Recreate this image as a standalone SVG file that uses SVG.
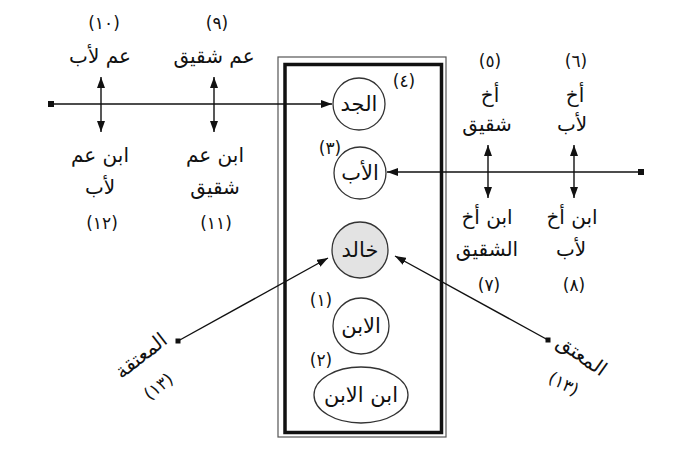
<svg xmlns="http://www.w3.org/2000/svg" width="700" height="457" viewBox="0 0 700 457">
<defs>
<marker id="ah" viewBox="0 0 11 8" refX="11" refY="4" markerWidth="11" markerHeight="8" markerUnits="userSpaceOnUse" orient="auto-start-reverse">
<path d="M0,0 L11,4 L0,8 z" fill="#111"/>
</marker>
<style>
.t{font-family:"DejaVu Sans",sans-serif;font-size:20px;fill:#111;text-anchor:middle}
.c1{font-family:"DejaVu Sans",sans-serif;font-size:21px;fill:#111;text-anchor:middle}
.n{font-family:"DejaVu Sans",sans-serif;font-size:17px;fill:#111;text-anchor:middle;letter-spacing:3px}
.c{fill:#fff;stroke:#333;stroke-width:1.3}
.arr{stroke:#111;stroke-width:1.4;fill:none;marker-end:url(#ah)}
.dbl{stroke:#111;stroke-width:1.4;fill:none;marker-start:url(#ah);marker-end:url(#ah)}
</style>
</defs>
<rect width="700" height="457" fill="#fff"/>
<g id="frame">
<rect x="278" y="57" width="168" height="380" fill="none" stroke="#555" stroke-width="1.2"/>
<rect x="285" y="64.5" width="156.5" height="368" fill="none" stroke="#111" stroke-width="3.5"/>
</g>
<g id="connectors">
<line class="arr" x1="51" y1="104" x2="332" y2="104"/>
<rect x="48" y="101" width="6" height="6" fill="#111"/>
<line class="arr" x1="641" y1="172" x2="387" y2="172"/>
<rect x="638" y="169" width="6" height="6" fill="#111"/>
<line class="dbl" x1="101" y1="77" x2="101" y2="132"/>
<line class="dbl" x1="214" y1="77" x2="214" y2="132"/>
<line class="dbl" x1="488" y1="145" x2="488" y2="198"/>
<line class="dbl" x1="574" y1="145" x2="574" y2="198"/>
<line class="arr" x1="178" y1="341" x2="328" y2="258"/>
<rect x="175.5" y="338.5" width="5" height="5" fill="#111"/>
<line class="arr" x1="548" y1="340" x2="395" y2="256"/>
<rect x="545.5" y="337.5" width="5" height="5" fill="#111"/>
</g>
<g id="n4">
<circle class="c" cx="359" cy="104" r="26"/>
<text class="c1" x="359" y="111">الجد</text>
<text class="n" x="404" y="87">(٤)</text>
</g>
<g id="n3">
<circle class="c" cx="360" cy="173" r="26"/>
<text class="c1" x="360" y="180">الأب</text>
<text class="n" x="330" y="154">(٣)</text>
</g>
<g id="khalid">
<circle cx="360" cy="250" r="28" fill="#e3e3e3" stroke="#333" stroke-width="1.3"/>
<text class="c1" x="360" y="257">خالد</text>
</g>
<g id="n1">
<circle class="c" cx="361" cy="326" r="28"/>
<text class="c1" x="361" y="333">الابن</text>
<text class="n" x="321" y="306">(١)</text>
</g>
<g id="n2">
<ellipse class="c" cx="361" cy="395" rx="47" ry="28"/>
<text class="c1" x="361" y="402">ابن الابن</text>
<text class="n" x="321" y="366">(٢)</text>
</g>
<g id="n10">
<text class="n" x="104" y="29">(١٠)</text>
<text class="t" x="100" y="63">عم لأب</text>
</g>
<g id="n9">
<text class="n" x="217" y="29">(٩)</text>
<text class="t" x="214" y="63">عم شقيق</text>
</g>
<g id="n12">
<text class="t" x="100" y="162">ابن عم</text>
<text class="t" x="100" y="194">لأب</text>
<text class="n" x="102" y="229">(١٢)</text>
</g>
<g id="n11">
<text class="t" x="215" y="162">ابن عم</text>
<text class="t" x="215" y="194">شقيق</text>
<text class="n" x="216" y="229">(١١)</text>
</g>
<g id="n5">
<text class="n" x="490" y="67">(٥)</text>
<text class="t" x="490" y="102">أخ</text>
<text class="t" x="487" y="131">شقيق</text>
</g>
<g id="n6">
<text class="n" x="576" y="67">(٦)</text>
<text class="t" x="575" y="102">أخ</text>
<text class="t" x="572" y="131">لأب</text>
</g>
<g id="n7">
<text class="t" x="487" y="224">ابن أخ</text>
<text class="t" x="487" y="256">الشقيق</text>
<text class="n" x="489" y="291">(٧)</text>
</g>
<g id="n8">
<text class="t" x="572" y="224">ابن أخ</text>
<text class="t" x="571" y="256">لأب</text>
<text class="n" x="574" y="291">(٨)</text>
</g>
<g id="n13a">
<text class="t" transform="translate(145,361) rotate(-38)">المعتقة</text>
<text class="n" transform="translate(162,391) rotate(-38)">(١٣)</text>
</g>
<g id="n13b">
<text class="t" transform="translate(578,361) rotate(35)">المعتق</text>
<text class="n" transform="translate(561,389) rotate(28)">(١٣)</text>
</g>
</svg>
